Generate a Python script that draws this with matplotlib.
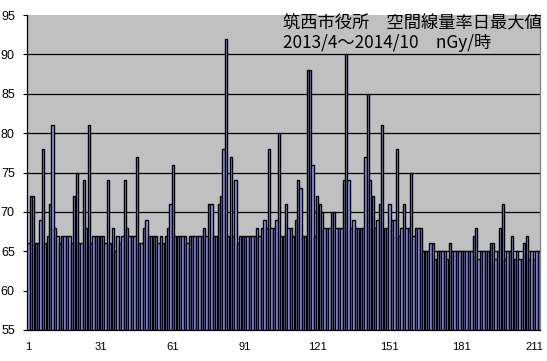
import matplotlib
matplotlib.use("Agg")
import matplotlib.pyplot as plt
import numpy as np

# Daily maximum air dose rate (nGy/h), one value per bar
values = [66,
    72, 72, 66, 66, 69, 78, 66, 67, 71, 81, 68, 67, 66, 67, 67, 67, 67, 66, 72, 75,
    66, 66, 74, 68, 81, 66, 67,
    67, 67, 67, 67, 66, 74, 66, 68, 65, 67, 66, 67, 74, 68, 67, 67, 67, 77, 66, 66,
    68, 69, 67, 67, 67, 67, 66, 67,
    66, 67, 68, 71, 76, 67, 67, 67, 67, 67, 66, 67, 67, 67, 67, 67, 67, 68, 67, 71,
    71, 67, 67, 71, 72, 78, 92,
    67, 77, 67, 74, 66, 67, 67, 67, 67, 67, 67, 67, 68, 67, 68, 69, 68, 78, 68, 68,
    69, 80, 67, 67, 71, 68, 68,
    67, 69, 74, 73, 67, 67, 88, 88, 76, 67, 72, 71, 70, 68, 68, 68, 70, 70, 68, 68,
    68, 74, 90, 74, 68, 69, 68, 68, 68, 68, 77,
    85, 74, 72, 68, 69, 71, 81, 68, 68, 71, 69, 69, 78, 67, 68, 71, 68, 68, 75, 67,
    68, 68,
    68, 65, 65, 65, 66, 66, 64, 65, 65, 65, 65, 64, 66, 65, 65, 65, 65, 65, 65, 65,
    65, 65, 67, 68, 64, 65, 65,
    65, 65, 66, 66, 64, 65, 68, 71, 64, 65, 65, 67, 64, 65, 64, 64, 66, 67, 64, 65,
    64, 65, 65]

days = np.arange(1, len(values) + 1)
xtick_vals = [1, 31, 61, 91, 121, 151, 181, 211]
ytick_vals = [55, 60, 65, 70, 75, 80, 85, 90, 95]
title_line1 = "筑西市役所　空間線量率日最大値"
title_line2 = "2013/4～2014/10　nGy/時"

fig = plt.figure(figsize=(5.47, 3.61), dpi=100)
fig.patch.set_facecolor("white")
ax = fig.add_axes([27.3 / 547, 1 - 330 / 361, (540 - 27.3) / 547, (330 - 15) / 361])
ax.set_facecolor("#C0C0C0")

ax.bar(days, np.array(values) - 55, bottom=55, width=0.95,
       facecolor="#9999FF", edgecolor="black", linewidth=1.0, zorder=3)

ax.set_xlim(0.5, len(values) + 0.5)
ax.set_ylim(55, 95)
ax.set_yticks(ytick_vals)
ax.set_xticks(xtick_vals)
ax.set_xticklabels([str(v) for v in xtick_vals])

for y in ytick_vals[1:-1]:
    ax.axhline(y, color="black", linewidth=0.9, zorder=1)

for s in ["left", "bottom"]:
    ax.spines[s].set_color("black")
    ax.spines[s].set_linewidth(0.9)
ax.spines["top"].set_visible(False)
ax.spines["right"].set_color("#808080")
ax.spines["right"].set_linewidth(0.9)

ax.tick_params(axis="y", direction="out", length=3, width=0.8, pad=6,
               labelsize=9, colors="black")
ax.tick_params(axis="x", length=0, pad=9, labelsize=8)
for lab in ax.get_xticklabels() + ax.get_yticklabels():
    lab.set_family(["Liberation Sans", "DejaVu Sans"])

fig.text(283 / 547, 1 - 23 / 361, title_line1, ha="left", va="center",
         fontsize=12.4, family=["Noto Sans CJK JP", "DejaVu Sans"], color="black")
fig.text(283 / 547, 1 - 43 / 361, title_line2, ha="left", va="center",
         fontsize=12.4, family=["Noto Sans CJK JP", "DejaVu Sans"], color="black")

fig.savefig("out.png", dpi=100)
